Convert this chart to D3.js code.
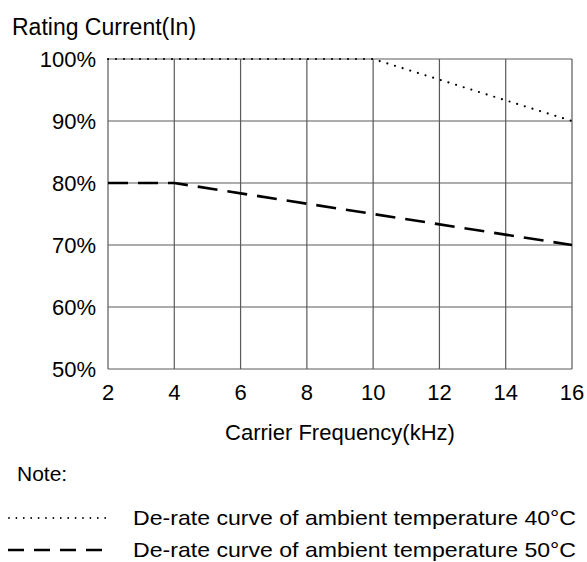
<!DOCTYPE html>
<html>
<head>
<meta charset="utf-8">
<script src="https://cdn.jsdelivr.net/npm/d3@7"></script>
<style>
  body { margin: 0; background: #fff; }
  text { font-family: "Liberation Sans", Arial, sans-serif; fill: #000; }
</style>
</head>
<body>
<svg id="chart" width="587" height="562"></svg>
<script>
// chart values
const xTicks = [2, 4, 6, 8, 10, 12, 14, 16];
const yTicks = [50, 60, 70, 80, 90, 100];
const curve40 = [{ f: 2, v: 100 }, { f: 10, v: 100 }, { f: 16, v: 90 }];
const curve50 = [{ f: 2, v: 80 }, { f: 4, v: 80 }, { f: 16, v: 70 }];
const legendLabels = [
  'De-rate curve of ambient temperature 40°C',
  'De-rate curve of ambient temperature 50°C'
];

const svg = d3.select('#chart');
const margin = { top: 59, left: 108, right: 15, bottom: 193 };
const width = 587 - margin.left - margin.right;
const height = 562 - margin.top - margin.bottom;

const x = d3.scaleLinear().domain([2, 16]).range([0, width]);
const y = d3.scaleLinear().domain([50, 100]).range([height, 0]);

const g = svg.append('g').attr('transform', `translate(${margin.left},${margin.top})`);

// grid
g.selectAll('.vgrid').data(xTicks).enter().append('line')
  .attr('x1', d => x(d)).attr('x2', d => x(d))
  .attr('y1', 0).attr('y2', height)
  .attr('stroke', '#5a5a5a').attr('stroke-width', 1.2);

g.selectAll('.hgrid').data(yTicks).enter().append('line')
  .attr('x1', 0).attr('x2', width)
  .attr('y1', d => y(d)).attr('y2', d => y(d))
  .attr('stroke', '#5a5a5a').attr('stroke-width', 1.2);

// tick labels
g.selectAll('.ylab').data(yTicks).enter().append('text')
  .attr('x', -12).attr('y', d => y(d) + 8)
  .attr('text-anchor', 'end').attr('font-size', 22)
  .text(d => d + '%');

g.selectAll('.xlab').data(xTicks).enter().append('text')
  .attr('x', d => x(d)).attr('y', height + 31)
  .attr('text-anchor', 'middle').attr('font-size', 22)
  .text(d => d);

// titles
svg.append('text').attr('x', 12).attr('y', 35).attr('font-size', 23)
  .text('Rating Current(In)');
svg.append('text').attr('x', 340).attr('y', 440).attr('text-anchor', 'middle')
  .attr('font-size', 22).text('Carrier Frequency(kHz)');
svg.append('text').attr('x', 17).attr('y', 481).attr('font-size', 21)
  .text('Note:');

// curves
const line = d3.line().x(d => x(d.f)).y(d => y(d.v));

g.append('path').datum(curve40)
  .attr('d', line).attr('fill', 'none')
  .attr('stroke', '#000').attr('stroke-width', 2.2)
  .attr('stroke-linecap', 'round')
  .attr('stroke-dasharray', '0 8');

g.append('path').datum(curve50)
  .attr('d', line).attr('fill', 'none')
  .attr('stroke', '#000').attr('stroke-width', 2.6)
  .attr('stroke-dasharray', '20 10');

// legend
svg.append('line').attr('x1', 9).attr('x2', 106).attr('y1', 518).attr('y2', 518)
  .attr('stroke', '#000').attr('stroke-width', 1.8)
  .attr('stroke-linecap', 'round').attr('stroke-dasharray', '0 7.4');
svg.append('line').attr('x1', 8).attr('x2', 104).attr('y1', 550).attr('y2', 550)
  .attr('stroke', '#000').attr('stroke-width', 2.4)
  .attr('stroke-dasharray', '16 10');

svg.selectAll('.leg').data(legendLabels).enter().append('text')
  .attr('x', 133).attr('y', (d, i) => 525 + i * 32)
  .attr('font-size', 21)
  .attr('textLength', 443)
  .attr('lengthAdjust', 'spacingAndGlyphs')
  .text(d => d);
</script>
</body>
</html>
